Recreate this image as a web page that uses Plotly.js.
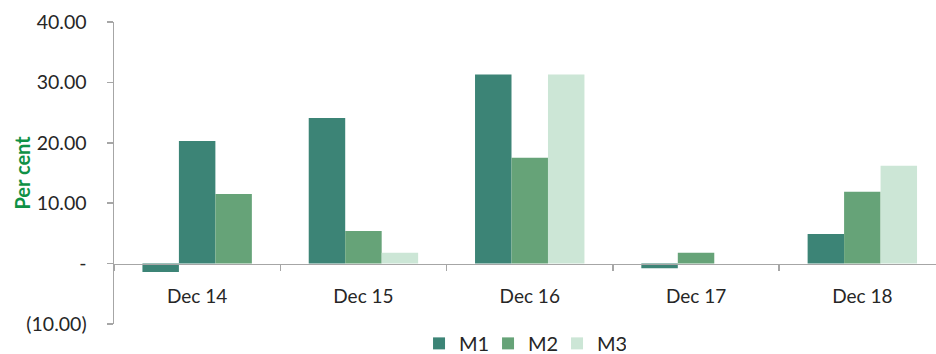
<!DOCTYPE html>
<html>
<head>
<meta charset="utf-8">
<script src="https://cdn.plot.ly/plotly-3.0.1.min.js"></script>
<style>html,body{margin:0;padding:0;background:#fff;}#chart{width:936px;height:354px;}</style>
</head>
<body>
<div id="chart"></div>
<script>
const categories = ['Dec 14', 'Dec 15', 'Dec 16', 'Dec 17', 'Dec 18'];
const m1 = [-1.4, 24.1, 31.3, -0.8, 4.9];
const m2 = [20.3, 5.4, 17.5, 1.8, 11.9];
const m3 = [11.5, 1.8, 31.3, 0, 16.2];
const yTickVals = [-10, 0, 10, 20, 30, 40];
const yTickText = ['(10.00)', '-', '10.00', '20.00', '30.00', '40.00'];

const C1 = '#3c8476', C2 = '#66a378', C3 = '#cce6d6';
const FONT = 'Lato, "Open Sans", sans-serif';
const TXT = '#262626';
const AX = '#a6a6a6';

// In the reference the first category's M2 bar is drawn in the M1 colour and its M3 bar in the M2 colour.
function only(arr, i) { return arr.map((v, k) => k === i ? v : null); }
function except(arr, i) { return arr.map((v, k) => k === i ? null : v); }

const traces = [
  {type: 'bar', name: 'M1', x: categories, y: m1, marker: {color: C1}, offsetgroup: 'a'},
  {type: 'bar', name: 'M2', x: categories, y: except(m2, 0), marker: {color: C2}, offsetgroup: 'b'},
  {type: 'bar', name: 'M2', x: categories, y: only(m2, 0), marker: {color: C1}, offsetgroup: 'b', showlegend: false},
  {type: 'bar', name: 'M3', x: categories, y: except(m3, 0), marker: {color: C3}, offsetgroup: 'c'},
  {type: 'bar', name: 'M3', x: categories, y: only(m3, 0), marker: {color: C2}, offsetgroup: 'c', showlegend: false}
];
traces.forEach(t => { t.hoverinfo = 'none'; });

const layout = {
  width: 936, height: 354,
  margin: {l: 114, r: 0, t: 22, b: 29},
  paper_bgcolor: '#fff', plot_bgcolor: '#fff',
  barmode: 'group', bargap: 0.342, bargroupgap: 0,
  font: {family: FONT, color: TXT, size: 18},
  showlegend: true,
  legend: {orientation: 'h', xref: 'paper', x: 0.497, xanchor: 'center', yref: 'container', y: 0.03, yanchor: 'middle',
           font: {family: FONT, size: 20, color: TXT}, entrywidth: 24, itemwidth: 30, traceorder: 'normal'},
  xaxis: {type: 'category', range: [-0.5, 4.443], anchor: 'free', position: 0.2,
          showline: true, linecolor: AX, linewidth: 1.5, ticks: 'outside', tickson: 'boundaries',
          ticklen: 6, tickcolor: AX, tickwidth: 1.5, showgrid: false, zeroline: false,
          tickfont: {family: FONT, size: 19, color: TXT}, ticklabelstandoff: 15, fixedrange: true},
  yaxis: {range: [-10, 40], tickvals: yTickVals, ticktext: yTickText,
          showline: true, linecolor: AX, linewidth: 1.5, ticks: 'outside', ticklen: 6, tickcolor: AX, tickwidth: 1.5,
          showgrid: false, zeroline: false, tickfont: {family: FONT, size: 19.5, color: TXT}, ticklabelstandoff: 16,
          title: {text: '<b>Per cent</b>', font: {family: FONT, size: 20, color: '#0f9146'}, standoff: 0},
          automargin: false, fixedrange: true}
};

Plotly.newPlot('chart', traces, layout, {displayModeBar: false, staticPlot: true}).then(function (gd) {
  // the reference's y title overlaps the tick-label column; shift it right to match
  const g = gd.querySelector('.g-ytitle');
  if (g) g.setAttribute('transform', 'translate(10,0)');
});
</script>
</body>
</html>
